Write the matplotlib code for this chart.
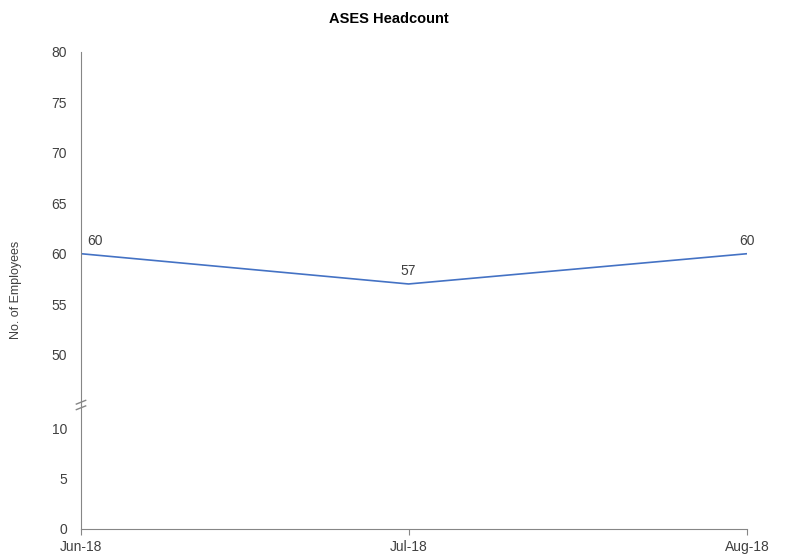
import matplotlib
matplotlib.use('Agg')
import matplotlib.pyplot as plt
import matplotlib.dates as mdates
from matplotlib.transforms import offset_copy
import pandas as pd

# Data (Excel date axis: monthly points)
months = ['2018-06-01', '2018-07-01', '2018-08-01']
month_labels = ['Jun-18', 'Jul-18', 'Aug-18']
headcount = [60, 57, 60]
upper_ticks = [50, 55, 60, 65, 70, 75, 80]
lower_ticks = [0, 5, 10]

line_color = '#4472C4'
axis_color = '#868686'
text_color = '#404040'

plt.rcParams['font.family'] = ['Liberation Sans', 'DejaVu Sans']

fig = plt.figure(figsize=(7.86, 5.54), dpi=100)
left, right = 81 / 786, 747 / 786
bottom, brk, top = 1 - 529 / 554, 1 - 405 / 554, 1 - 52 / 554
ax_top = fig.add_axes([left, brk, right - left, top - brk])
ax_bot = fig.add_axes([left, bottom, right - left, brk - bottom], sharex=ax_top)

x = mdates.date2num(pd.to_datetime(months).to_pydatetime())
ax_top.plot(x, headcount, color=line_color, lw=1.2)
ax_bot.plot(x, headcount, color=line_color, lw=1.2)

ax_top.set_ylim(45, 80)
ax_bot.set_ylim(0, 12.3)
ax_top.set_xlim(x[0], x[-1])

ax_top.set_yticks(upper_ticks)
ax_bot.set_yticks(lower_ticks)
ax_bot.set_xticks(x)
ax_bot.set_xticklabels(month_labels)

for ax in (ax_top, ax_bot):
    for side in ('top', 'right'):
        ax.spines[side].set_visible(False)
    ax.spines['left'].set_color(axis_color)
    ax.tick_params(axis='y', length=0, pad=10, labelsize=10, labelcolor=text_color)
    ax.patch.set_alpha(0)
ax_top.spines['bottom'].set_visible(False)
ax_top.tick_params(axis='x', bottom=False, labelbottom=False)
ax_bot.spines['bottom'].set_color(axis_color)
ax_bot.tick_params(axis='x', length=4, color=axis_color, pad=4, labelsize=10,
                   labelcolor=text_color)

# break marks on the y axis
kw = dict(color=axis_color, lw=1, clip_on=False)
for off in (-2, 2):
    tr = offset_copy(ax_bot.transAxes, fig=fig, x=0, y=off, units='points')
    ax_bot.plot([-0.007, 0.007], [0.985, 1.015], transform=tr, **kw)

# data labels
offsets = [(10, 4), (0, 4), (0, 4)]
for xi, v, (dx, dy) in zip(x, headcount, offsets):
    ax_top.annotate(str(v), (xi, v), xytext=(dx, dy), textcoords='offset points',
                    ha='center', va='bottom', fontsize=10, color=text_color)

fig.text(389 / 786, 1 - 19 / 554, 'ASES Headcount', ha='center', va='center',
         fontsize=10.5, fontweight='bold', color='black')
fig.text(16 / 786, 1 - 290 / 554, 'No. of Employees', rotation=90, ha='center',
         va='center', fontsize=9, color=text_color)

fig.savefig('out.png', dpi=100)
